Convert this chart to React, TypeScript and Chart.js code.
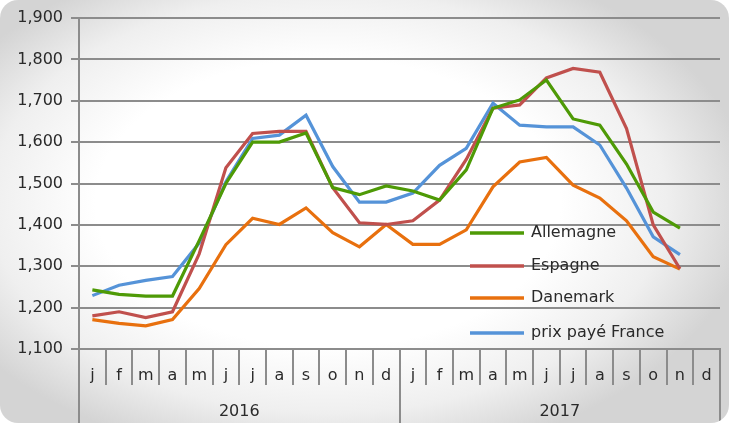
import React, { useEffect, useRef } from "react";
import { Chart, registerables } from "chart.js";

Chart.register(...registerables);

const months: string[] = ["j","f","m","a","m","j","j","a","s","o","n","d","j","f","m","a","m","j","j","a","s","o","n","d"];
const years: string[] = ["2016", "2017"];

const allemagne: (number | null)[] = [1243,1232,1228,1228,1362,1500,1600,1600,1622,1490,1473,1494,1482,1460,1533,1682,1702,1750,1656,1641,1547,1431,1392,null];
const espagne: (number | null)[] = [1180,1190,1176,1190,1330,1538,1621,1626,1626,1490,1405,1401,1410,1460,1558,1682,1690,1755,1778,1769,1633,1400,1294,null];
const danemark: (number | null)[] = [1171,1162,1156,1171,1246,1352,1416,1401,1441,1381,1347,1401,1353,1353,1388,1492,1552,1563,1496,1465,1410,1323,1293,null];
const france: (number | null)[] = [1229,1254,1266,1275,1356,1504,1609,1617,1665,1541,1455,1455,1477,1544,1585,1694,1641,1637,1637,1593,1489,1371,1328,null];

const seriesNames = ["Allemagne", "Espagne", "Danemark", "prix payé France"];
const seriesColors = ["#4e9a06", "#c0504d", "#e8700e", "#5593d8"];

const FONT = "'DejaVu Sans', sans-serif";
const GRID = "#8c8c8c";
const TEXT = "#2a2a2a";

export default function App() {
  const ref = useRef<HTMLCanvasElement | null>(null);
  useEffect(() => {
    document.body.style.margin = "0";
    const legendPlugin = {
      id: "inlineLegend",
      afterDraw(chart: any) {
        const ctx = chart.ctx;
        const rows = [233, 266, 298, 333];
        ctx.save();
        chart.data.datasets.forEach((ds: any, i: number) => {
          const y = rows[i];
          ctx.strokeStyle = ds.borderColor;
          ctx.lineWidth = 3.5;
          ctx.beginPath();
          ctx.moveTo(470, y);
          ctx.lineTo(524, y);
          ctx.stroke();
          ctx.fillStyle = TEXT;
          ctx.font = `16px ${FONT}`;
          ctx.textBaseline = "middle";
          ctx.textAlign = "left";
          ctx.fillText(ds.label, 531, y);
        });
        ctx.restore();
      },
    };
    const data = [allemagne, espagne, danemark, france];
    const chart = new Chart(ref.current as HTMLCanvasElement, {
      type: "line",
      data: {
        labels: months,
        datasets: data.map((d, i) => ({
          label: seriesNames[i],
          data: d,
          borderColor: seriesColors[i],
          backgroundColor: seriesColors[i],
          borderWidth: 3.2,
          pointRadius: 0,
          tension: 0,
          xAxisID: "x",
        })),
      },
      options: {
        animation: false,
        responsive: false,
        maintainAspectRatio: false,
        layout: { padding: { top: 18, right: 9, left: 0, bottom: 0 } },
        plugins: { legend: { display: false }, tooltip: { enabled: false } },
        scales: {
          y: {
            min: 1100,
            max: 1900,
            ticks: {
              stepSize: 100,
              color: TEXT,
              font: { family: FONT, size: 16 },
              padding: 8,
              callback: (v: any) => Number(v).toLocaleString("en-US"),
            },
            grid: { color: GRID, lineWidth: 2, tickLength: 8 },
            border: { color: GRID, width: 2 },
            afterFit: (s: any) => { s.width = 79; },
          },
          x: {
            type: "category",
            position: "bottom",
            offset: true,
            ticks: {
              color: TEXT,
              font: { family: FONT, size: 16 },
              padding: -19,
              maxRotation: 0,
              autoSkip: false,
            },
            grid: { drawOnChartArea: false, offset: true, color: GRID, lineWidth: 2, tickLength: 36 },
            border: { color: GRID, width: 2 },
            afterFit: (s: any) => { s.height = 36; },
          },
          x2: {
            type: "category",
            position: "bottom",
            labels: years,
            offset: true,
            ticks: {
              color: TEXT,
              font: { family: FONT, size: 16 },
              padding: -23,
              maxRotation: 0,
            },
            grid: { drawOnChartArea: false, offset: true, color: GRID, lineWidth: 2, tickLength: 40 },
            border: { display: false },
            afterFit: (s: any) => { s.height = 38; },
          },
        },
      },
      plugins: [legendPlugin],
    });
    return () => chart.destroy();
  }, []);
  return (
    <div
      style={{
        position: "fixed",
        left: 0,
        top: 0,
        width: 729,
        height: 423,
        overflow: "hidden",
        background:
          "radial-gradient(ellipse 58% 62% at 45% 48%, #ffffff 55%, #efefef 80%, #d4d4d4 100%)",
        borderRadius: 18,
      }}
    >
      <canvas ref={ref} width={729} height={423} style={{ display: "block" }} />
    </div>
  );
}
